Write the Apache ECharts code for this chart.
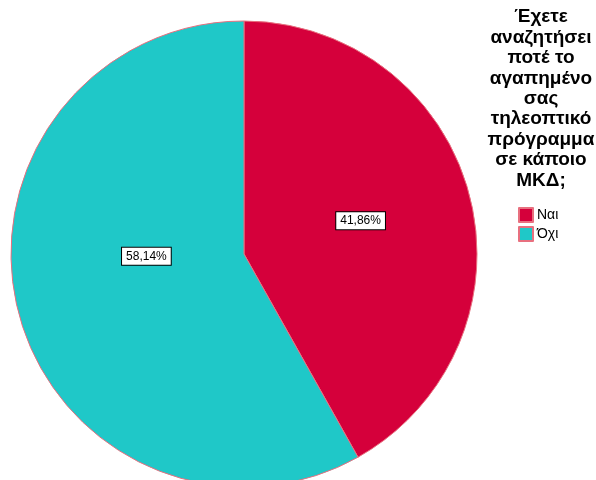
<!DOCTYPE html>
<html>
<head>
<meta charset="utf-8">
<script src="https://cdn.jsdelivr.net/npm/echarts@6/dist/echarts.min.js"></script>
<style>html,body{margin:0;padding:0;background:#fff;}#c{width:596px;height:480px;}</style>
</head>
<body>
<div id="c"></div>
<script>
var categories = ['Ναι', 'Όχι'];
var values = [41.86, 58.14];
var colors = ['#d5003b', '#1fc8c8'];
var legendTitle = 'Έχετε\nαναζητήσει\nποτέ το\nαγαπημένο\nσας\nτηλεοπτικό\nπρόγραμμα\nσε κάποιο\nΜΚΔ;';

var chart = echarts.init(document.getElementById('c'), null, {renderer: 'canvas'});
var font = '"Liberation Sans", Arial, sans-serif';
chart.setOption({
  animation: false,
  backgroundColor: '#fff',
  title: {
    text: legendTitle,
    left: 541,
    top: 7,
    padding: 0,
    textAlign: 'center',
    textStyle: {fontFamily: font, fontSize: 19, fontWeight: 'bold', color: '#000', lineHeight: 20.4}
  },
  legend: {
    orient: 'vertical',
    left: 518,
    top: 207,
    padding: 0,
    itemWidth: 14,
    itemHeight: 14,
    itemGap: 3,
    icon: 'rect',
    data: categories,
    textStyle: {fontFamily: font, fontSize: 14, color: '#000', padding: [0, 0, 0, -1]}
  },
  series: [{
    type: 'pie',
    center: [244, 254],
    radius: 233,
    startAngle: 90,
    clockwise: true,
    data: categories.map(function (c, i) {
      return {name: c, value: values[i], itemStyle: {color: colors[i]}};
    }),
    itemStyle: {borderColor: '#e8707f', borderWidth: 1},
    label: {
      position: 'inside',
      formatter: function (p) { return p.value.toFixed(2).replace('.', ',') + '%'; },
      fontFamily: font,
      fontSize: 12,
      color: '#000',
      backgroundColor: '#fff',
      borderColor: '#000',
      borderWidth: 1,
      padding: [3, 4, 2, 4]
    },
    labelLayout: function (p) {
      if (p.dataIndex === 1) return {dx: 18, dy: -28};
      return {dx: 1, dy: -3};
    },
    emphasis: {disabled: true}
  }]
});
</script>
</body>
</html>
